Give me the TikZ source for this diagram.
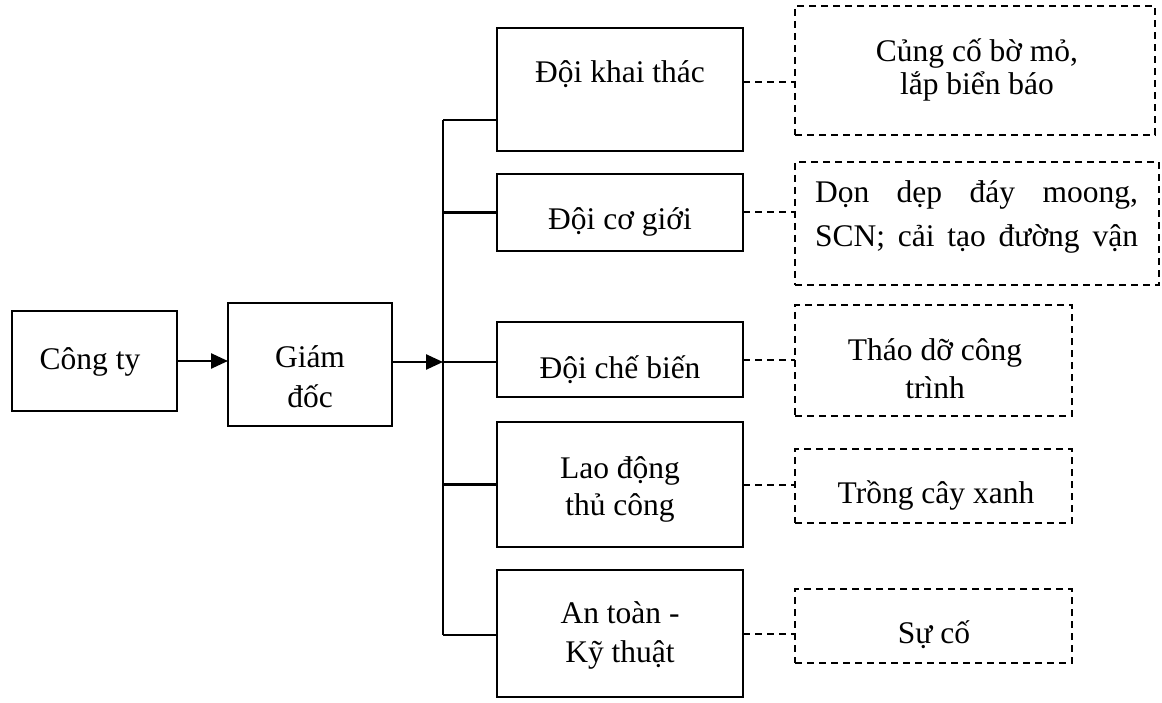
\documentclass[tikz,border=0pt]{standalone}
\usepackage{fontspec}
\setmainfont{Liberation Serif}
\usetikzlibrary{arrows.meta}
\begin{document}
\begin{tikzpicture}[x=1pt,y=-1pt,
  solidbox/.style={draw, line width=2.6pt, inner sep=0pt, outer sep=0pt},
  dbox/.style={draw, line width=1.9pt, dash pattern=on 7pt off 5pt, inner sep=0pt, outer sep=0pt},
  txt/.style={font=\fontsize{31.5}{37}\selectfont, inner sep=0pt, anchor=base},
  conn/.style={line width=2.5pt},
  dconn/.style={line width=2pt, dash pattern=on 7pt off 5pt},
  arr/.style={conn, -{Triangle[length=17pt,width=15pt]}}]
\useasboundingbox[fill=white] (0,0) rectangle (1162,703);
% solid boxes
\node[solidbox, minimum width=165pt, minimum height=100pt] (ct) at (94.5,361) {};
\node[solidbox, minimum width=164pt, minimum height=123pt] (gd) at (310,364.5) {};
\node[solidbox, minimum width=246pt, minimum height=123pt] (kt) at (620,89.5) {};
\node[solidbox, minimum width=246pt, minimum height=77pt] (cg) at (620,212.5) {};
\node[solidbox, minimum width=246pt, minimum height=75pt] (cb) at (620,359.5) {};
\node[solidbox, minimum width=246pt, minimum height=125pt] (ld) at (620,484.5) {};
\node[solidbox, minimum width=246pt, minimum height=127pt] (at) at (620,633.5) {};
% dashed boxes
\node[dbox, minimum width=360pt, minimum height=129pt] (d1) at (975,70.5) {};
\node[dbox, minimum width=364pt, minimum height=123pt] (d2) at (977,223.5) {};
\node[dbox, minimum width=277pt, minimum height=111pt] (d3) at (933.5,360.5) {};
\node[dbox, minimum width=277pt, minimum height=74pt] (d4) at (933.5,486) {};
\node[dbox, minimum width=277pt, minimum height=74pt] (d5) at (933.5,626) {};
% texts
\node[txt] (tct) at (90,370) {Công ty};
\node[txt] (tgd) at (310,367) {\parbox[t]{150pt}{\centering Giám\\[3pt]đốc}};
\node[txt] (tkt) at (620,83) {Đội khai thác};
\node[txt] (tcg) at (620,230) {Đội cơ giới};
\node[txt] (tcb) at (620,378) {Đội chế biến};
\node[txt] (tld) at (620,478) {\parbox[t]{240pt}{\centering Lao động\\thủ công}};
\node[txt] (tat) at (620,623) {\parbox[t]{240pt}{\centering An toàn -\\[2pt]Kỹ thuật}};
\node[txt] (td1) at (977,62) {\parbox[t]{340pt}{\centering Củng cố bờ mỏ,\\[-4pt]lắp biển báo}};
\node[txt] (td2) at (976.5,203) {\parbox[t]{323pt}{\makebox[323pt][s]{Dọn dẹp đáy moong,}\\[7pt]\makebox[323pt][s]{SCN; cải tạo đường vận}}};
\node[txt] (td3) at (935,360) {\parbox[t]{260pt}{\centering Tháo dỡ công\\[1pt]trình}};
\node[txt] (td4) at (936,503) {Trồng cây xanh};
\node[txt] (td5) at (934,643) {Sự cố};
% bus
\coordinate (bt) at (443,120);
\coordinate (bb) at (443,635);
\coordinate (bm) at (443,362);
\draw[conn] (bt) -- (bb);
% arrows
\draw[arr] (ct.east) -- (gd.west |- ct.east);
\draw[arr] (gd.east |- bm) -- (bm);
% branches
\draw[conn] (bt) -- (kt.west |- bt);
\draw[conn] (bt |- cg.west) -- (cg.west);
\draw[conn] (bm) -- (cb.west |- bm);
\draw[conn] (bt |- ld.west) -- (ld.west);
\draw[conn] (bb) -- (at.west |- bb);
% dashed connectors
\coordinate (k1) at ([yshift=7.5pt]kt.east);
\draw[dconn] (k1) -- (d1.west |- k1);
\draw[dconn] (cg.east) -- (d2.west |- cg.east);
\draw[dconn] (cb.east) -- (d3.west |- cb.east);
\draw[dconn] (ld.east) -- (d4.west |- ld.east);
\draw[dconn] (at.east) -- (d5.west |- at.east);
\end{tikzpicture}
\end{document}
